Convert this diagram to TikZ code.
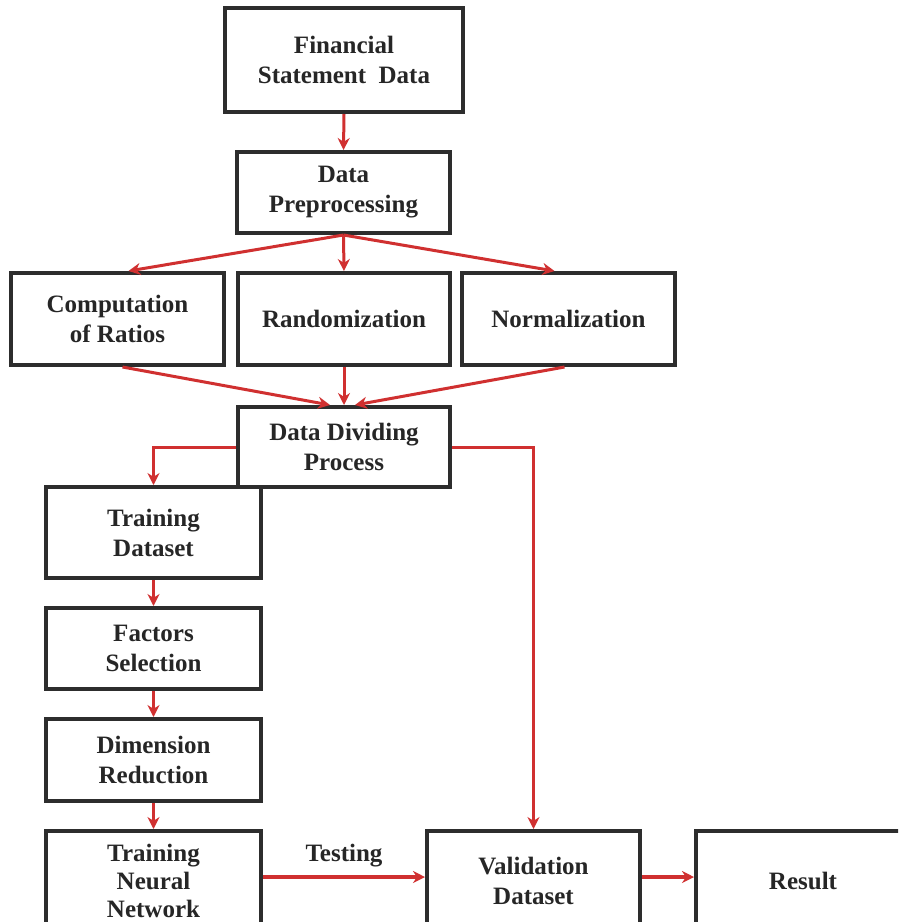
\documentclass[tikz,border=0pt]{standalone}
\usepackage{fontspec}
\setmainfont{Liberation Serif}
\usetikzlibrary{arrows.meta,calc}
\definecolor{arrred}{RGB}{208,48,48}
\definecolor{boxgray}{RGB}{45,45,45}
\begin{document}
\begin{tikzpicture}[x=1pt,y=-1pt,
  box/.style={draw=boxgray,line width=4pt,fill=white,align=center,inner sep=2pt,
    font=\fontsize{25}{30}\selectfont\bfseries,text=black!85},
  conn/.style={draw=arrred,line width=3pt,-{Stealth[length=12pt,width=12pt]}},
  thickconn/.style={conn,line width=4.5pt},
  lbl/.style={font=\fontsize{25}{30}\selectfont\bfseries,text=black!85}]
\useasboundingbox (0,0) rectangle (898,922);
\clip (0,0) rectangle (898,922);
\fill[white] (0,0) rectangle (898,922);
\node[box,minimum width=238pt,minimum height=104pt] (fsd) at (344,60) {Financial\\Statement\enspace Data};
\node[box,minimum width=213pt,minimum height=81pt] (dp) at (343.5,192.5) {Data\\Preprocessing};
\node[box,minimum width=213pt,minimum height=92pt] (comp) at (117.5,319) {Computation\\of Ratios};
\node[box,minimum width=212pt,minimum height=92pt] (rand) at (344,319) {Randomization};
\node[box,minimum width=213pt,minimum height=92pt] (norm) at (568.5,319) {Normalization};
\node[box,minimum width=215pt,minimum height=91pt] (td) at (153.5,532.5) {Training\\Dataset};
\node[box,minimum width=212pt,minimum height=80pt] (ddp) at (344,447) {Data Dividing\\Process};
\node[box,minimum width=215pt,minimum height=81pt] (fs) at (153.5,648.5) {Factors\\Selection};
\node[box,minimum width=215pt,minimum height=82pt] (dr) at (153.5,760) {Dimension\\Reduction};
\node[box,minimum width=215pt,minimum height=100pt,font=\fontsize{25}{28}\selectfont\bfseries] (tnn) at (153.5,881) {Training\\Neural\\Network};
\node[box,minimum width=213pt,minimum height=100pt] (val) at (533.5,881) {Validation\\Dataset};
\node[box,minimum width=214pt,minimum height=100pt] (res) at (803,881) {Result};

\draw[conn] (fsd.south) -- (dp.north);
\draw[conn] (dp.south) -- ($(comp.north)+(11,0)$);
\draw[conn] (dp.south) -- (rand.north);
\draw[conn] (dp.south) -- ($(norm.north)+(-14,0)$);
\draw[conn] ($(comp.south)+(5,0)$) -- ($(ddp.north)+(-14,0)$);
\draw[conn] (rand.south) -- (ddp.north);
\draw[conn] ($(norm.south)+(-4,0)$) -- ($(ddp.north)+(11,0)$);
\draw[conn] (ddp.west) -| (td.north);
\draw[conn] (ddp.east) -| (val.north);
\draw[conn] (td.south) -- (fs.north);
\draw[conn] (fs.south) -- (dr.north);
\draw[conn] (dr.south) -- (tnn.north);
\draw[thickconn] ($(tnn.east)+(0,-4)$) -- node[lbl,above=4pt] (testing) {Testing} ($(val.west)+(0,-4)$);
\draw[thickconn] ($(val.east)+(0,-4)$) -- ($(res.west)+(0,-4)$);
\end{tikzpicture}
\end{document}
